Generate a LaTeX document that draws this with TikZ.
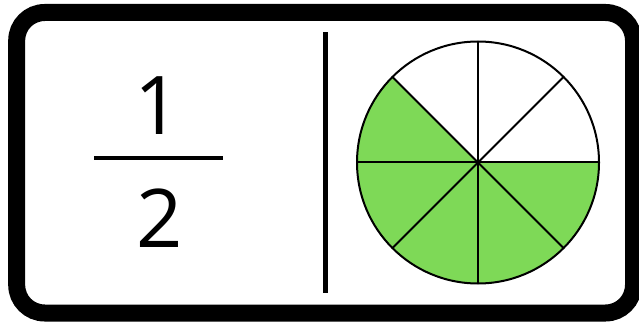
\documentclass[tikz,border=0pt]{standalone}
\usepackage{fontspec}
\setmainfont{Open Sans}
\definecolor{piegreen}{RGB}{126,217,87}
\begin{document}
\begin{tikzpicture}[x=1pt,y=-1pt,
  frame/.style={draw=black,line width=17pt,rounded corners=28pt},
  digit/.style={anchor=base,inner sep=0pt,font=\fontsize{81}{81}\selectfont},
  rule/.style={line width=4.5pt},
  divider/.style={line width=5.5pt},
  pie/.style={line width=2pt}]
\useasboundingbox (0,0) rectangle (639,323);
\fill[white] (0,0) rectangle (639,323);
\draw[frame] (16.7,12.5) rectangle (633.5,313);
% fraction
\node[digit] (one) at (158,135) {1};
\node[digit] (two) at (160,247) {2};
\coordinate (barL) at (94,158);
\coordinate (barR) at (223,158);
\draw[rule] (barL) -- (barR);
% divider
\coordinate (divT) at (325.3,32.3);
\coordinate (divB) at (325.3,292.7);
\draw[divider] (divT) -- (divB);
% pie
\coordinate (c) at (478,162.5);
\fill[piegreen] (c) -- ++(-135:121) arc[start angle=-135,end angle=-360,radius=121] -- cycle;
\draw[pie] (c) circle[radius=121];
\foreach \a in {0,45,...,315} {\draw[pie] (c) -- ++(\a:121);}
\end{tikzpicture}
\end{document}
